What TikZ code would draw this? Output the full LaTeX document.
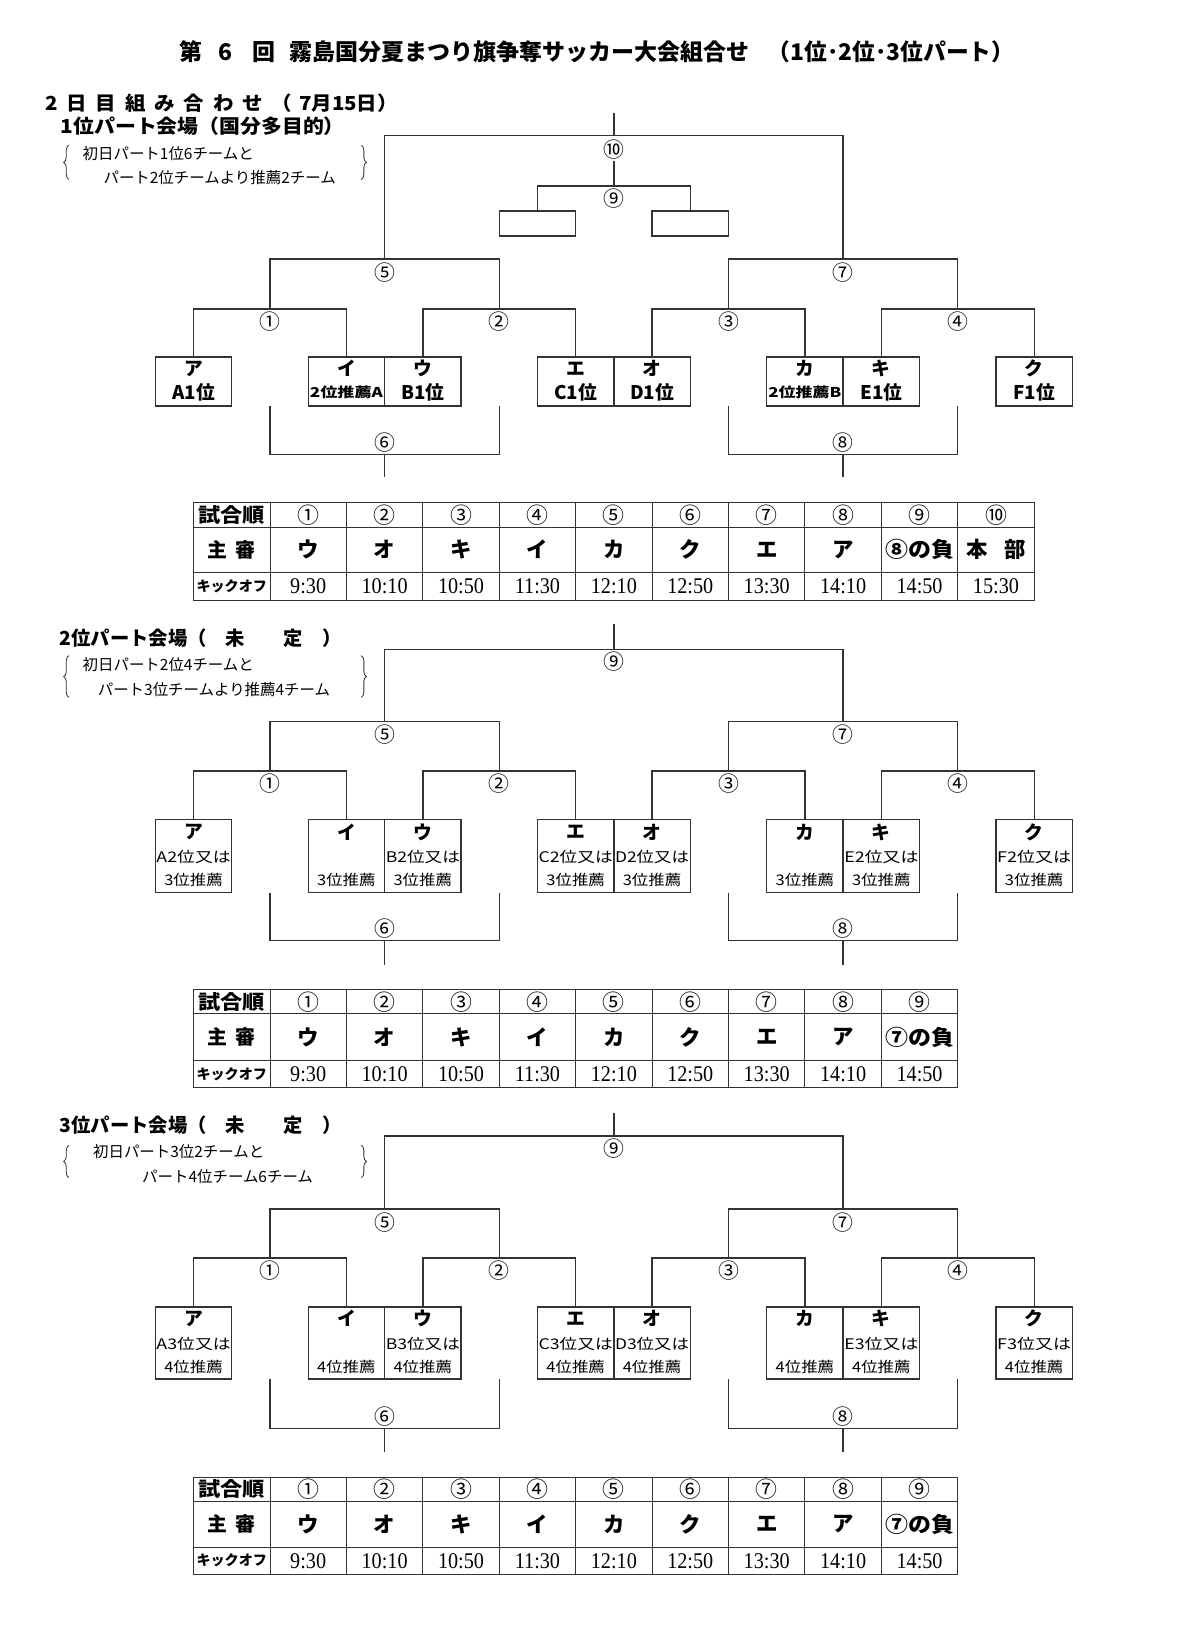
\documentclass[tikz,border=0pt]{standalone}
\usepackage{fontspec}
\usepackage{graphicx}
\usetikzlibrary{decorations.pathreplacing}
\setmainfont{Liberation Serif}
\newfontfamily\jp{Noto Sans CJK JP}
\newfontfamily\tms{Liberation Serif}
\newcommand{\fw}[2]{\resizebox{#1pt}{\height}{#2}}
\newcommand{\fs}[1]{\fontsize{#1}{#1}\selectfont}
\newcommand{\tm}[1]{\scalebox{0.9}[1]{#1}}

\tikzset{
  ln/.style={line width=1.3pt, draw=black!80},
  tl/.style={line width=0.9pt, draw=black!80},
  brc/.style={line width=0.8pt, draw=black!80, decorate, decoration={brace, amplitude=5pt}},
  teambox/.style={draw=black!80, line width=1.3pt, minimum width=73.2pt, inner sep=0pt},
  num/.style={font=\jp\fs{20}, inner sep=0pt},
  kana/.style={font=\jp\bfseries\fs{18}, inner sep=0pt},
  lab/.style={font=\jp\bfseries\fs{18}, inner sep=0pt},
  small/.style={font=\jp\fs{14}, inner sep=0pt},
  note/.style={font=\jp\fs{14.8}, inner sep=0pt, anchor=west},
  head/.style={font=\jp\bfseries\fs{18.5}, inner sep=0pt, anchor=west},
  hd/.style={font=\jp\bfseries\fs{19}, inner sep=0pt},
  ko/.style={font=\jp\bfseries\fs{13.5}, inner sep=0pt},
  cnum/.style={font=\jp\fs{21}, inner sep=0pt},
  refr/.style={font=\jp\bfseries\fs{20.5}, inner sep=0pt},
  ktime/.style={font=\tms\fs{21.5}, inner sep=0pt},
}

\newcommand{\teamboxes}[3]{%
  \node[teambox, minimum height=#3pt] (#1A) at (185.4,#2) {};
  \node[teambox, minimum height=#3pt] (#1B) at (331.8,#2) {};
  \node[teambox, minimum height=#3pt] (#1C) at (405,#2) {};
  \node[teambox, minimum height=#3pt] (#1D) at (551.4,#2) {};
  \node[teambox, minimum height=#3pt] (#1E) at (624.6,#2) {};
  \node[teambox, minimum height=#3pt] (#1F) at (771,#2) {};
  \node[teambox, minimum height=#3pt] (#1G) at (844.2,#2) {};
  \node[teambox, minimum height=#3pt] (#1H) at (990.6,#2) {};
}

\newcommand{\bracketlines}[8]{%
  \coordinate (#1top) at (588,#2);
  \coordinate (#1fin) at (588,#3);
  \coordinate (#1s5) at (368.4,#4);
  \coordinate (#1s7) at (807.6,#4);
  \coordinate (#1m1) at (258.6,#5);
  \coordinate (#1m2) at (478.2,#5);
  \coordinate (#1m3) at (697.8,#5);
  \coordinate (#1m4) at (917.4,#5);
  \draw[ln] (#1top) -- (#1fin);
  \draw[ln] (#1s5) |- (#1fin) -| (#1s7);
  \draw[ln] (#1m1) |- (#1s5) -| (#1m2);
  \draw[ln] (#1m3) |- (#1s7) -| (#1m4);
  \draw[ln] (#1A.north) |- (#1m1) -| (#1B.north);
  \draw[ln] (#1C.north) |- (#1m2) -| (#1D.north);
  \draw[ln] (#1E.north) |- (#1m3) -| (#1F.north);
  \draw[ln] (#1G.north) |- (#1m4) -| (#1H.north);
  \coordinate (#1b1) at (258.6,#6);
  \coordinate (#1b2) at (478.2,#6);
  \coordinate (#1b3) at (697.8,#6);
  \coordinate (#1b4) at (917.4,#6);
  \coordinate (#1l6) at (368.4,#7);
  \coordinate (#1l8) at (807.6,#7);
  \coordinate (#1e6) at (368.4,#8);
  \coordinate (#1e8) at (807.6,#8);
  \draw[ln] (#1b1) |- (#1l6) -| (#1b2);
  \draw[ln] (#1l6) -- (#1e6);
  \draw[ln] (#1b3) |- (#1l8) -| (#1b4);
  \draw[ln] (#1l8) -- (#1e8);
  \node[num] (#1n5) at (368.4,{#4+13}) {⑤};
  \node[num] (#1n7) at (807.6,{#4+13}) {⑦};
  \node[num] (#1n1) at (258.6,{#5+12}) {①};
  \node[num] (#1n2) at (478.2,{#5+12}) {②};
  \node[num] (#1n3) at (697.8,{#5+12}) {③};
  \node[num] (#1n4) at (917.4,{#5+12}) {④};
  \node[num] (#1n6) at (368.4,{#7-11.5}) {⑥};
  \node[num] (#1n8) at (807.6,{#7-11.5}) {⑧};
}

\newcommand{\schedtable}[9]{%
  \pgfmathsetmacro{\tabR}{185.4+73.2*(#6+1)}
  \draw[tl, line width=1.1pt] (185.4,#2) rectangle (\tabR,#5);
  \draw[tl] (185.4,#3) -- (\tabR,#3);
  \draw[tl] (185.4,#4) -- (\tabR,#4);
  \foreach \k in {1,...,#6} \draw[tl] ({185.4+73.2*\k},#2) -- ({185.4+73.2*\k},#5);
  \node[hd] (#1h1) at (222,{(#2+#3)/2}) {\fw{64}{試合順}};
  \node[hd] (#1h2) at (222,{(#3+#4)/2}) {主\hspace{8pt}審};
  \node[ko] (#1h3) at (222,{(#4+#5)/2}) {キックオフ};
  \foreach \k/\t in {#7} \node[cnum] (#1a\k) at ({222+73.2*\k},{(#2+#3)/2}) {\t};
  \foreach \k/\t in {#8} \node[refr] (#1r\k) at ({222+73.2*\k},{(#3+#4)/2}) {\t};
  \foreach \k/\t in {#9} \node[ktime] (#1t\k) at ({222+73.2*\k},{(#4+#5)/2}) {\tm{\t}};
}

\begin{document}
\begin{tikzpicture}[x=1pt,y=-1pt]
\fill[white] (0,0) rectangle (1138,1568);
\useasboundingbox (0,0) rectangle (1138,1568);

% ---------- title and headers ----------
\node[anchor=west, inner sep=0pt, font=\jp\bfseries\fs{22}] (title) at (172,50)
  {第\hspace{15pt}6\hspace{19pt}回\hspace{14pt}\fw{440}{霧島国分夏まつり旗争奪サッカー大会組合せ}\hspace{18pt}\fw{236}{（1位･2位･3位パート）}};
\node[head] (day2) at (43,99) {\fw{338}{2\hspace{8pt}日\hspace{8pt}目\hspace{8pt}組\hspace{8pt}み\hspace{8pt}合\hspace{8pt}わ\hspace{8pt}せ\hspace{8pt}（\hspace{6pt}7月15日）}};

% ================= Section 1 =================
\node[head] (h1) at (58,121) {\fw{272}{1位パート会場（国分多目的）}};
\node[note] (n1a) at (79,147) {初日パート1位6チームと};
\node[note] (n1b) at (99,170.6) {パート2位チームより推薦2チーム};
\coordinate (s1bl1) at (66,172);
\coordinate (s1bl2) at (66,139);
\coordinate (s1br1) at (346,139);
\coordinate (s1br2) at (346,172);
\draw[brc] (s1bl1) -- (s1bl2);
\draw[brc] (s1br1) -- (s1br2);

\teamboxes{s1}{365.5}{47}
\bracketlines{s1}{108}{130}{248}{296}{389}{435.5}{457}
\node[num] (s1n10) at (588,143) {⑩};
\node[teambox, minimum height=24pt] (s1w1) at (514.8,214) {};
\node[teambox, minimum height=24pt] (s1w2) at (661.2,214) {};
\coordinate (s1j9) at (588,178);
\coordinate (s1t10) at (588,154);
\draw[ln] (s1w1.north) |- (s1j9) -| (s1w2.north);
\draw[ln] (s1t10) -- (s1j9);
\node[num] (s1n9) at (588,190) {⑨};

\foreach \b/\x/\k in {A/185.4/ア,B/331.8/イ,C/405/ウ,D/551.4/エ,E/624.6/オ,F/771/カ,G/844.2/キ,H/990.6/ク}
  \node[kana] (s1k\b) at (\x,353) {\k};
\foreach \b/\x/\t in {A/185.4/A1位,B/331.8/{\fs{13}\fw{70}{2位推薦A}},C/405/B1位,D/551.4/C1位,E/624.6/D1位,F/771/{\fs{13}\fw{70}{2位推薦B}},G/844.2/E1位,H/990.6/F1位}
  \node[lab] (s1l\b) at (\x,376) {\t};

\schedtable{s1t}{481}{505}{548}{575}{10}
  {1/①,2/②,3/③,4/④,5/⑤,6/⑥,7/⑦,8/⑧,9/⑨,10/⑩}
  {1/ウ,2/オ,3/キ,4/イ,5/カ,6/ク,7/エ,8/ア,9/{\fw{66}{⑧の負}},10/{本\hspace{16pt}部}}
  {1/9:30,2/10:10,3/10:50,4/11:30,5/12:10,6/12:50,7/13:30,8/14:10,9/14:50,10/15:30}

% ================= Section 2 =================
\node[head] (h2) at (57,611) {2位パート会場（　未　　定　）};
\node[note] (n2a) at (79,637) {初日パート2位4チームと};
\node[note] (n2b) at (93.5,661) {パート3位チームより推薦4チーム};
\coordinate (s2bl1) at (66,668);
\coordinate (s2bl2) at (66,628);
\coordinate (s2br1) at (346,628);
\coordinate (s2br2) at (346,668);
\draw[brc] (s2bl1) -- (s2bl2);
\draw[brc] (s2br1) -- (s2br2);

\teamboxes{s2}{820}{70}
\bracketlines{s2}{598}{622}{691}{738.5}{855}{901}{924}
\node[num] (s2n9) at (588,634) {⑨};
\foreach \b/\x/\k in {A/185.4/ア,B/331.8/イ,C/405/ウ,D/551.4/エ,E/624.6/オ,F/771/カ,G/844.2/キ,H/990.6/ク}
  \node[kana] (s2k\b) at (\x,797) {\k};
\foreach \b/\x/\t in {A/185.4/A2位又は,C/405/B2位又は,D/551.4/C2位又は,E/624.6/D2位又は,G/844.2/E2位又は,H/990.6/F2位又は}
  \node[small] (s2l\b) at (\x,820.6) {\fw{71}{\t}};
\foreach \b/\x in {A/185.4,B/331.8,C/405,D/551.4,E/624.6,F/771,G/844.2,H/990.6}
  \node[small] (s2m\b) at (\x,843) {\fw{56}{3位推薦}};

\schedtable{s2t}{948}{971}{1016}{1042}{9}
  {1/①,2/②,3/③,4/④,5/⑤,6/⑥,7/⑦,8/⑧,9/⑨}
  {1/ウ,2/オ,3/キ,4/イ,5/カ,6/ク,7/エ,8/ア,9/{\fw{66}{⑦の負}}}
  {1/9:30,2/10:10,3/10:50,4/11:30,5/12:10,6/12:50,7/13:30,8/14:10,9/14:50}

% ================= Section 3 =================
\node[head] (h3) at (57,1077.6) {3位パート会場（　未　　定　）};
\node[note] (n3a) at (89,1103) {初日パート3位2チームと};
\node[note] (n3b) at (136,1127) {パート4位チーム6チーム};
\coordinate (s3bl1) at (66,1128);
\coordinate (s3bl2) at (66,1097);
\coordinate (s3br1) at (346,1097);
\coordinate (s3br2) at (346,1128);
\draw[brc] (s3bl1) -- (s3bl2);
\draw[brc] (s3br1) -- (s3br2);

\teamboxes{s3}{1286.5}{69}
\bracketlines{s3}{1066}{1088}{1158}{1205}{1321}{1368}{1391}
\node[num] (s3n9) at (588,1100) {⑨};
\foreach \b/\x/\k in {A/185.4/ア,B/331.8/イ,C/405/ウ,D/551.4/エ,E/624.6/オ,F/771/カ,G/844.2/キ,H/990.6/ク}
  \node[kana] (s3k\b) at (\x,1263) {\k};
\foreach \b/\x/\t in {A/185.4/A3位又は,C/405/B3位又は,D/551.4/C3位又は,E/624.6/D3位又は,G/844.2/E3位又は,H/990.6/F3位又は}
  \node[small] (s3l\b) at (\x,1287) {\fw{71}{\t}};
\foreach \b/\x in {A/185.4,B/331.8,C/405,D/551.4,E/624.6,F/771,G/844.2,H/990.6}
  \node[small] (s3m\b) at (\x,1309) {\fw{56}{4位推薦}};

\schedtable{s3t}{1415}{1438}{1482}{1508}{9}
  {1/①,2/②,3/③,4/④,5/⑤,6/⑥,7/⑦,8/⑧,9/⑨}
  {1/ウ,2/オ,3/キ,4/イ,5/カ,6/ク,7/エ,8/ア,9/{\fw{66}{⑦の負}}}
  {1/9:30,2/10:10,3/10:50,4/11:30,5/12:10,6/12:50,7/13:30,8/14:10,9/14:50}
\end{tikzpicture}
\end{document}
